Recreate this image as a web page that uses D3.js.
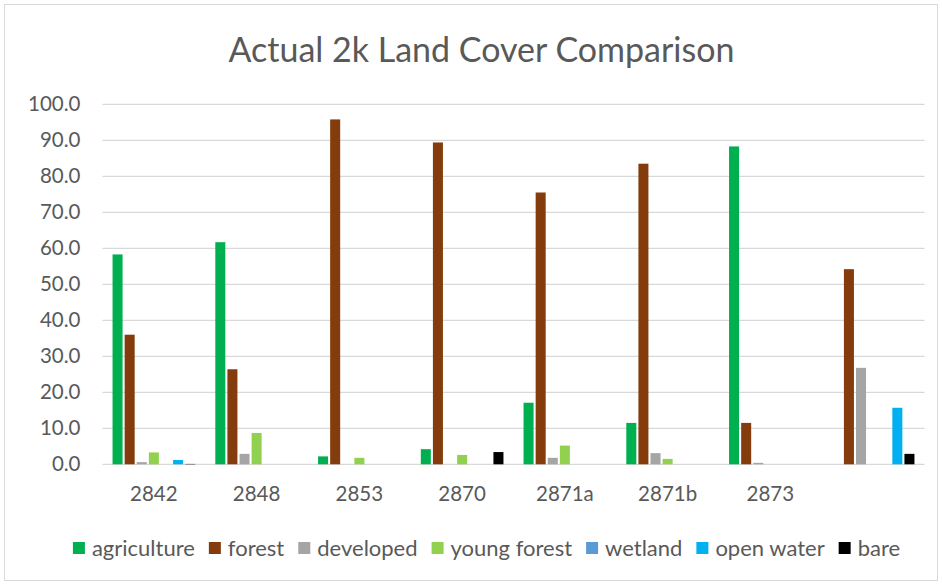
<!DOCTYPE html>
<html>
<head>
<meta charset="utf-8">
<script src="https://cdn.jsdelivr.net/npm/d3@7/dist/d3.min.js"></script>
<style>
  html, body { margin: 0; padding: 0; background: #fff; }
  svg { display: block; }
  text { font-family: Lato, "Open Sans", sans-serif; fill: #595959; }
</style>
</head>
<body>
<svg id="chart" width="942" height="584"></svg>
<script>
// Land cover shares (%) per site
const categories = ["2842", "2848", "2853", "2870", "2871a", "2871b", "2873", ""];
const seriesNames = ["agriculture", "forest", "developed", "young forest", "wetland", "open water", "bare"];
const seriesColors = ["#00B050", "#843C0C", "#A5A5A5", "#92D050", "#5B9BD5", "#00B0F0", "#000000"];

const agriculture = [58.3, 61.7, 2.2, 4.2, 17.1, 11.5, 88.3, 0];
const forest      = [36.0, 26.4, 95.8, 89.4, 75.5, 83.5, 11.5, 54.2];
const developed   = [0.6, 2.9, 0, 0, 1.8, 3.1, 0.4, 26.8];
const youngForest = [3.3, 8.7, 1.8, 2.6, 5.2, 1.5, 0, 0];
const wetland     = [0, 0, 0, 0, 0, 0, 0, 0];
const openWater   = [1.2, 0, 0, 0, 0, 0, 0, 15.7];
const bare        = [0.1, 0, 0, 3.4, 0, 0, 0, 2.9];

const seriesValues = [agriculture, forest, developed, youngForest, wetland, openWater, bare];
const yTicks = [0, 10, 20, 30, 40, 50, 60, 70, 80, 90, 100];
const title = "Actual 2k Land Cover Comparison";

const svg = d3.select("#chart");
const W = 942, H = 584;

// chart frame
svg.append("rect")
  .attr("x", 4.5).attr("y", 4.5)
  .attr("width", W - 9).attr("height", H - 8)
  .attr("fill", "#fff").attr("stroke", "#d9d9d9").attr("stroke-width", 1);

const plot = { left: 102.5, right: 924.5, top: 104.3, bottom: 464.3 };

const x0 = d3.scaleBand().domain(categories.map((c, i) => i))
  .range([plot.left, plot.right]).paddingInner(0).paddingOuter(0);
const x1 = d3.scaleBand().domain(seriesNames)
  .range([0, x0.bandwidth()]).paddingInner(0.172).paddingOuter(0.83);
const y = d3.scaleLinear().domain([0, 100]).range([plot.bottom, plot.top]);

// title
svg.append("text")
  .attr("x", 481.5).attr("y", 62)
  .attr("text-anchor", "middle")
  .style("font-size", "34px")
  .text(title);

// gridlines
svg.append("g")
  .selectAll("line")
  .data(yTicks)
  .join("line")
  .attr("x1", plot.left).attr("x2", plot.right)
  .attr("y1", d => y(d)).attr("y2", d => y(d))
  .attr("stroke", "#d9d9d9").attr("stroke-width", 1.3);

// y axis labels
const yAxis = d3.axisLeft(y).tickValues(yTicks).tickFormat(d3.format(".1f")).tickSize(0).tickPadding(22);
const gy = svg.append("g").attr("transform", `translate(${plot.left},0)`).call(yAxis);
gy.select(".domain").remove();
gy.selectAll("text").style("font-size", "20.5px").attr("fill", "#595959").attr("font-family", null);

// bars
const groups = svg.append("g")
  .selectAll("g")
  .data(categories.map((c, i) => i))
  .join("g")
  .attr("transform", i => `translate(${x0(i)},0)`);

groups.selectAll("rect")
  .data(i => seriesNames.map((s, k) => ({ s, k, v: seriesValues[k][i] })))
  .join("rect")
  .attr("x", d => x1(d.s))
  .attr("width", x1.bandwidth())
  .attr("y", d => y(d.v))
  .attr("height", d => y(0) - y(d.v))
  .attr("fill", d => seriesColors[d.k]);

// x axis labels
const xAxis = d3.axisBottom(x0).tickFormat(i => categories[i]).tickSize(0).tickPadding(22);
const gx = svg.append("g").attr("transform", `translate(0,${plot.bottom})`).call(xAxis);
gx.select(".domain").remove();
gx.selectAll("text").style("font-size", "20.5px").attr("fill", "#595959").attr("font-family", null);

// legend
const legend = svg.append("g");
const sw = 12, gapText = 7, gapItem = 14;
let cx = 0;
seriesNames.forEach((name, k) => {
  const g = legend.append("g");
  g.append("rect").attr("width", sw).attr("height", sw).attr("y", -sw / 2).attr("fill", seriesColors[k]);
  const t = g.append("text").attr("x", sw + gapText).attr("dy", "0.35em").style("font-size", "22px").text(name);
  const w = sw + gapText + t.node().getComputedTextLength();
  g.attr("transform", `translate(${cx},0)`);
  cx += w + gapItem;
});
const legendWidth = cx - gapItem;
legend.attr("transform", `translate(${486.5 - legendWidth / 2},548)`);
</script>
</body>
</html>
